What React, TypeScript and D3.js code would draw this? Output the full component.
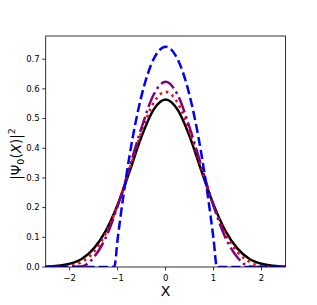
import * as React from 'react';
import * as d3 from "d3";

// values
const xs = [-2.5, -2.25, -2, -1.75, -1.5, -1.25, -1, -0.75, -0.5, -0.25, 0, 0.25, 0.5, 0.75, 1, 1.25, 1.5, 1.75, 2, 2.25, 2.5];
const blackVals = [0.001, 0.004, 0.011, 0.027, 0.062, 0.121, 0.21, 0.322, 0.44, 0.53, 0.564, 0.53, 0.44, 0.322, 0.21, 0.121, 0.062, 0.027, 0.011, 0.004, 0.001];
const redVals = [0, 0, 0.003, 0.017, 0.05, 0.112, 0.208, 0.33, 0.456, 0.553, 0.59, 0.553, 0.456, 0.33, 0.208, 0.112, 0.05, 0.017, 0.003, 0, 0];
const purpleVals = [0, 0, 0, 0.002, 0.032, 0.098, 0.205, 0.338, 0.47, 0.58, 0.624, 0.58, 0.47, 0.338, 0.205, 0.098, 0.032, 0.002, 0, 0, 0];
const blueXs = [-2.5, -1.07, -1, -0.75, -0.5, -0.25, 0, 0.25, 0.5, 0.75, 1, 1.07, 2.5];
const blueVals = [0, 0, 0.094, 0.377, 0.578, 0.7, 0.742, 0.7, 0.578, 0.377, 0.094, 0, 0];
const xTicks = [-2, -1, 0, 1, 2];
const yTicks = [0, 0.1, 0.2, 0.3, 0.4, 0.5, 0.6, 0.7];

interface Point { x: number; y: number; }

interface Serie {
    color: string;
    values: Point[];
    dash?: string;
}

const series: Serie[] = [
    { color: "black", values: xs.map((x, i) => ({ x, y: blackVals[i] })) },
    { color: "red", values: xs.map((x, i) => ({ x, y: redVals[i] })), dash: "2.5,4.1" },
    { color: "purple", values: xs.map((x, i) => ({ x, y: purpleVals[i] })), dash: "16,4,2.5,4" },
    { color: "blue", values: blueXs.map((x, i) => ({ x, y: blueVals[i] })), dash: "9.25,4" },
];

const width = 317, height = 305;
const left = 45.7, right = 285.5, top = 36, bottom = 267;
const font = "DejaVu Sans";

export default function App() {
    const scaleX = d3.scaleLinear().domain([-2.5, 2.5]).range([left, right]);
    const scaleY = d3.scaleLinear().domain([0, 0.778]).range([bottom, top]);

    const line = d3.line<Point>()
        .curve(d3.curveMonotoneX)
        .x(p => scaleX(p.x))
        .y(p => scaleY(p.y));

    return (
        <div style={{ position: "absolute", left: 0, top: 0 }}>
            <svg width={width} height={height} style={{ display: "block", background: "white" }}>
                <defs>
                    <clipPath id="plot">
                        <rect x={left} y={top - 2} width={right - left} height={bottom - top + 2} />
                    </clipPath>
                </defs>
                <g clipPath="url(#plot)">
                    {series.map((s, i) =>
                        <path key={i} d={line(s.values) || undefined} fill="none"
                            stroke={s.color} strokeWidth={2.5} strokeDasharray={s.dash} />
                    )}
                </g>
                <rect x={left} y={top} width={right - left} height={bottom - top} fill="none" stroke="black" strokeWidth={0.8} />
                {xTicks.map(t =>
                    <g key={t} transform={`translate(${scaleX(t)},${bottom})`}>
                        <line y2={3.5} stroke="black" strokeWidth={0.8} />
                        <text y={13.5} textAnchor="middle" fontFamily={font} fontSize={8.5}>{t < 0 ? "\u2212" + (-t) : t}</text>
                    </g>
                )}
                {yTicks.map(t =>
                    <g key={t} transform={`translate(${left},${scaleY(t)})`}>
                        <line x2={-3.5} stroke="black" strokeWidth={0.8} />
                        <text x={-6} dy="0.33em" textAnchor="end" fontFamily={font} fontSize={8.5}>{t.toFixed(1)}</text>
                    </g>
                )}
                <text x={(left + right) / 2} y={296} textAnchor="middle" fontFamily={font} fontSize={14}>X</text>
                <text transform={`translate(21,154) rotate(-90)`} textAnchor="middle" fontFamily={font} fontSize={13.5}>
                    |Ψ<tspan fontSize={9.5} dy={3}>0</tspan><tspan dy={-3}>(</tspan><tspan fontStyle="italic">X</tspan>)|<tspan fontSize={9.5} dy={-6}>2</tspan>
                </text>
            </svg>
        </div>
    );
}
